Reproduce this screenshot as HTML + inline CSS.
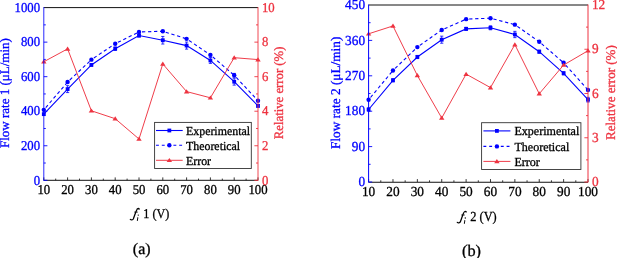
<!DOCTYPE html>
<html><head><meta charset="utf-8"><style>
html,body{margin:0;padding:0;background:#fff;}
svg{display:block;font-family:"Liberation Serif",serif;will-change:transform;}
text{text-rendering:geometricPrecision;stroke-width:0.3px;}
</style></head><body>
<svg width="617" height="258" viewBox="0 0 617 258">
<rect width="617" height="258" fill="#fff"/>
<text transform="translate(43.80,194.10) scale(0.944,1)" font-size="13.5" fill="#000" stroke="#000" text-anchor="middle">10</text>
<text transform="translate(67.60,194.10) scale(0.944,1)" font-size="13.5" fill="#000" stroke="#000" text-anchor="middle">20</text>
<text transform="translate(91.40,194.10) scale(0.944,1)" font-size="13.5" fill="#000" stroke="#000" text-anchor="middle">30</text>
<text transform="translate(115.20,194.10) scale(0.944,1)" font-size="13.5" fill="#000" stroke="#000" text-anchor="middle">40</text>
<text transform="translate(139.00,194.10) scale(0.944,1)" font-size="13.5" fill="#000" stroke="#000" text-anchor="middle">50</text>
<text transform="translate(162.80,194.10) scale(0.944,1)" font-size="13.5" fill="#000" stroke="#000" text-anchor="middle">60</text>
<text transform="translate(186.60,194.10) scale(0.944,1)" font-size="13.5" fill="#000" stroke="#000" text-anchor="middle">70</text>
<text transform="translate(210.40,194.10) scale(0.944,1)" font-size="13.5" fill="#000" stroke="#000" text-anchor="middle">80</text>
<text transform="translate(234.20,194.10) scale(0.944,1)" font-size="13.5" fill="#000" stroke="#000" text-anchor="middle">90</text>
<text transform="translate(258.00,194.10) scale(0.944,1)" font-size="13.5" fill="#000" stroke="#000" text-anchor="middle">100</text>
<text transform="translate(40.10,184.50) scale(0.944,1)" font-size="13.5" fill="#0000ff" stroke="#0000ff" text-anchor="end">0</text>
<text transform="translate(40.10,149.96) scale(0.944,1)" font-size="13.5" fill="#0000ff" stroke="#0000ff" text-anchor="end">200</text>
<text transform="translate(40.10,115.42) scale(0.944,1)" font-size="13.5" fill="#0000ff" stroke="#0000ff" text-anchor="end">400</text>
<text transform="translate(40.10,80.88) scale(0.944,1)" font-size="13.5" fill="#0000ff" stroke="#0000ff" text-anchor="end">600</text>
<text transform="translate(40.10,46.34) scale(0.944,1)" font-size="13.5" fill="#0000ff" stroke="#0000ff" text-anchor="end">800</text>
<text transform="translate(40.10,11.80) scale(0.944,1)" font-size="13.5" fill="#0000ff" stroke="#0000ff" text-anchor="end">1000</text>
<text transform="translate(261.90,184.50) scale(0.944,1)" font-size="13.5" fill="#ee3340" stroke="#ee3340">0</text>
<text transform="translate(261.90,149.96) scale(0.944,1)" font-size="13.5" fill="#ee3340" stroke="#ee3340">2</text>
<text transform="translate(261.90,115.42) scale(0.944,1)" font-size="13.5" fill="#ee3340" stroke="#ee3340">4</text>
<text transform="translate(261.90,80.88) scale(0.944,1)" font-size="13.5" fill="#ee3340" stroke="#ee3340">6</text>
<text transform="translate(261.90,46.34) scale(0.944,1)" font-size="13.5" fill="#ee3340" stroke="#ee3340">8</text>
<text transform="translate(261.90,11.80) scale(0.944,1)" font-size="13.5" fill="#ee3340" stroke="#ee3340">10</text>
<path d="M43.80,109.84L67.60,82.03" fill="none" stroke="#0000ff" stroke-width="1.1" stroke-dasharray="3.3,2.7" stroke-dashoffset="3"/>
<path d="M67.60,82.03L91.40,59.67" fill="none" stroke="#0000ff" stroke-width="1.1" stroke-dasharray="3.3,2.7" stroke-dashoffset="3"/>
<path d="M91.40,59.67L115.20,43.69" fill="none" stroke="#0000ff" stroke-width="1.1" stroke-dasharray="3.3,2.7" stroke-dashoffset="3"/>
<path d="M115.20,43.69L139.00,31.95" fill="none" stroke="#0000ff" stroke-width="1.1" stroke-dasharray="3.3,2.7" stroke-dashoffset="3"/>
<path d="M139.00,31.95L162.80,31.26" fill="none" stroke="#0000ff" stroke-width="1.1" stroke-dasharray="3.3,2.7" stroke-dashoffset="3"/>
<path d="M162.80,31.26L186.60,38.86" fill="none" stroke="#0000ff" stroke-width="1.1" stroke-dasharray="3.3,2.7" stroke-dashoffset="3"/>
<path d="M186.60,38.86L210.40,54.92" fill="none" stroke="#0000ff" stroke-width="1.1" stroke-dasharray="3.3,2.7" stroke-dashoffset="3"/>
<path d="M210.40,54.92L234.20,75.30" fill="none" stroke="#0000ff" stroke-width="1.1" stroke-dasharray="3.3,2.7" stroke-dashoffset="3"/>
<path d="M234.20,75.30L258.00,100.69" fill="none" stroke="#0000ff" stroke-width="1.1" stroke-dasharray="3.3,2.7" stroke-dashoffset="3"/>
<polyline points="43.80,114.16 67.60,89.11 91.40,64.94 115.20,48.70 139.00,35.58 162.80,40.24 186.60,45.59 210.40,60.45 234.20,81.69 258.00,105.87" fill="none" stroke="#0000ff" stroke-width="1.1"/>
<path d="M43.80,115.19V113.12M42.20,115.19h3.2M42.20,113.12h3.2" stroke="#0000ff" stroke-width="0.8" fill="none"/>
<path d="M67.60,92.57V85.66M66.00,92.57h3.2M66.00,85.66h3.2" stroke="#0000ff" stroke-width="0.8" fill="none"/>
<path d="M91.40,65.97V63.90M89.80,65.97h3.2M89.80,63.90h3.2" stroke="#0000ff" stroke-width="0.8" fill="none"/>
<path d="M115.20,50.43V46.98M113.60,50.43h3.2M113.60,46.98h3.2" stroke="#0000ff" stroke-width="0.8" fill="none"/>
<path d="M139.00,36.96V34.20M137.40,36.96h3.2M137.40,34.20h3.2" stroke="#0000ff" stroke-width="0.8" fill="none"/>
<path d="M162.80,44.04V36.44M161.20,44.04h3.2M161.20,36.44h3.2" stroke="#0000ff" stroke-width="0.8" fill="none"/>
<path d="M186.60,49.13V42.05M185.00,49.13h3.2M185.00,42.05h3.2" stroke="#0000ff" stroke-width="0.8" fill="none"/>
<path d="M210.40,63.38V57.51M208.80,63.38h3.2M208.80,57.51h3.2" stroke="#0000ff" stroke-width="0.8" fill="none"/>
<path d="M234.20,85.14V78.23M232.60,85.14h3.2M232.60,78.23h3.2" stroke="#0000ff" stroke-width="0.8" fill="none"/>
<path d="M258.00,107.25V104.48M256.40,107.25h3.2M256.40,104.48h3.2" stroke="#0000ff" stroke-width="0.8" fill="none"/>
<path d="M234.20,77.20V73.40M232.60,77.20h3.2M232.60,73.40h3.2" stroke="#0000ff" stroke-width="0.8" fill="none"/>
<rect x="41.90" y="112.26" width="3.8" height="3.8" fill="#0000ff"/>
<rect x="65.70" y="87.21" width="3.8" height="3.8" fill="#0000ff"/>
<rect x="89.50" y="63.04" width="3.8" height="3.8" fill="#0000ff"/>
<rect x="113.30" y="46.80" width="3.8" height="3.8" fill="#0000ff"/>
<rect x="137.10" y="33.68" width="3.8" height="3.8" fill="#0000ff"/>
<rect x="160.90" y="38.34" width="3.8" height="3.8" fill="#0000ff"/>
<rect x="184.70" y="43.69" width="3.8" height="3.8" fill="#0000ff"/>
<rect x="208.50" y="58.55" width="3.8" height="3.8" fill="#0000ff"/>
<rect x="232.30" y="79.79" width="3.8" height="3.8" fill="#0000ff"/>
<rect x="256.10" y="103.97" width="3.8" height="3.8" fill="#0000ff"/>
<circle cx="43.80" cy="109.84" r="2.2" fill="#0000ff"/>
<circle cx="67.60" cy="82.03" r="2.2" fill="#0000ff"/>
<circle cx="91.40" cy="59.67" r="2.2" fill="#0000ff"/>
<circle cx="115.20" cy="43.69" r="2.2" fill="#0000ff"/>
<circle cx="139.00" cy="31.95" r="2.2" fill="#0000ff"/>
<circle cx="162.80" cy="31.26" r="2.2" fill="#0000ff"/>
<circle cx="186.60" cy="38.86" r="2.2" fill="#0000ff"/>
<circle cx="210.40" cy="54.92" r="2.2" fill="#0000ff"/>
<circle cx="234.20" cy="75.30" r="2.2" fill="#0000ff"/>
<circle cx="258.00" cy="100.69" r="2.2" fill="#0000ff"/>
<polyline points="43.80,61.74 67.60,48.88 91.40,110.79 115.20,118.70 139.00,138.99 162.80,63.95 186.60,91.58 210.40,97.80 234.20,57.68 258.00,59.58" fill="none" stroke="#ee3340" stroke-width="0.95"/>
<path d="M43.80,59.34L46.50,63.54L41.10,63.54Z" fill="#ee3340"/>
<path d="M67.60,46.48L70.30,50.68L64.90,50.68Z" fill="#ee3340"/>
<path d="M91.40,108.39L94.10,112.59L88.70,112.59Z" fill="#ee3340"/>
<path d="M115.20,116.30L117.90,120.50L112.50,120.50Z" fill="#ee3340"/>
<path d="M139.00,136.59L141.70,140.79L136.30,140.79Z" fill="#ee3340"/>
<path d="M162.80,61.55L165.50,65.75L160.10,65.75Z" fill="#ee3340"/>
<path d="M186.60,89.18L189.30,93.38L183.90,93.38Z" fill="#ee3340"/>
<path d="M210.40,95.40L213.10,99.60L207.70,99.60Z" fill="#ee3340"/>
<path d="M234.20,55.28L236.90,59.48L231.50,59.48Z" fill="#ee3340"/>
<path d="M258.00,57.18L260.70,61.38L255.30,61.38Z" fill="#ee3340"/>
<line x1="43.80" y1="180.30" x2="43.80" y2="177.40" stroke="#222" stroke-width="0.9"/>
<line x1="55.70" y1="180.30" x2="55.70" y2="178.60" stroke="#222" stroke-width="0.9"/>
<line x1="67.60" y1="180.30" x2="67.60" y2="177.40" stroke="#222" stroke-width="0.9"/>
<line x1="79.50" y1="180.30" x2="79.50" y2="178.60" stroke="#222" stroke-width="0.9"/>
<line x1="91.40" y1="180.30" x2="91.40" y2="177.40" stroke="#222" stroke-width="0.9"/>
<line x1="103.30" y1="180.30" x2="103.30" y2="178.60" stroke="#222" stroke-width="0.9"/>
<line x1="115.20" y1="180.30" x2="115.20" y2="177.40" stroke="#222" stroke-width="0.9"/>
<line x1="127.10" y1="180.30" x2="127.10" y2="178.60" stroke="#222" stroke-width="0.9"/>
<line x1="139.00" y1="180.30" x2="139.00" y2="177.40" stroke="#222" stroke-width="0.9"/>
<line x1="150.90" y1="180.30" x2="150.90" y2="178.60" stroke="#222" stroke-width="0.9"/>
<line x1="162.80" y1="180.30" x2="162.80" y2="177.40" stroke="#222" stroke-width="0.9"/>
<line x1="174.70" y1="180.30" x2="174.70" y2="178.60" stroke="#222" stroke-width="0.9"/>
<line x1="186.60" y1="180.30" x2="186.60" y2="177.40" stroke="#222" stroke-width="0.9"/>
<line x1="198.50" y1="180.30" x2="198.50" y2="178.60" stroke="#222" stroke-width="0.9"/>
<line x1="210.40" y1="180.30" x2="210.40" y2="177.40" stroke="#222" stroke-width="0.9"/>
<line x1="222.30" y1="180.30" x2="222.30" y2="178.60" stroke="#222" stroke-width="0.9"/>
<line x1="234.20" y1="180.30" x2="234.20" y2="177.40" stroke="#222" stroke-width="0.9"/>
<line x1="246.10" y1="180.30" x2="246.10" y2="178.60" stroke="#222" stroke-width="0.9"/>
<line x1="258.00" y1="180.30" x2="258.00" y2="177.40" stroke="#222" stroke-width="0.9"/>
<line x1="43.80" y1="7.60" x2="258.00" y2="7.60" stroke="#111" stroke-width="1.0"/>
<line x1="43.80" y1="180.30" x2="258.00" y2="180.30" stroke="#111" stroke-width="1.0"/>
<line x1="43.80" y1="180.80" x2="43.80" y2="7.10" stroke="#0000ff" stroke-width="0.85"/>
<line x1="43.80" y1="180.30" x2="47.40" y2="180.30" stroke="#0000ff" stroke-width="0.9"/>
<line x1="43.80" y1="163.03" x2="45.80" y2="163.03" stroke="#0000ff" stroke-width="0.9"/>
<line x1="43.80" y1="145.76" x2="47.40" y2="145.76" stroke="#0000ff" stroke-width="0.9"/>
<line x1="43.80" y1="128.49" x2="45.80" y2="128.49" stroke="#0000ff" stroke-width="0.9"/>
<line x1="43.80" y1="111.22" x2="47.40" y2="111.22" stroke="#0000ff" stroke-width="0.9"/>
<line x1="43.80" y1="93.95" x2="45.80" y2="93.95" stroke="#0000ff" stroke-width="0.9"/>
<line x1="43.80" y1="76.68" x2="47.40" y2="76.68" stroke="#0000ff" stroke-width="0.9"/>
<line x1="43.80" y1="59.41" x2="45.80" y2="59.41" stroke="#0000ff" stroke-width="0.9"/>
<line x1="43.80" y1="42.14" x2="47.40" y2="42.14" stroke="#0000ff" stroke-width="0.9"/>
<line x1="43.80" y1="24.87" x2="45.80" y2="24.87" stroke="#0000ff" stroke-width="0.9"/>
<line x1="258.00" y1="180.80" x2="258.00" y2="7.10" stroke="#ee3340" stroke-width="0.9"/>
<line x1="258.00" y1="180.30" x2="254.40" y2="180.30" stroke="#ee3340" stroke-width="0.9"/>
<line x1="258.00" y1="163.03" x2="256.00" y2="163.03" stroke="#ee3340" stroke-width="0.9"/>
<line x1="258.00" y1="145.76" x2="254.40" y2="145.76" stroke="#ee3340" stroke-width="0.9"/>
<line x1="258.00" y1="128.49" x2="256.00" y2="128.49" stroke="#ee3340" stroke-width="0.9"/>
<line x1="258.00" y1="111.22" x2="254.40" y2="111.22" stroke="#ee3340" stroke-width="0.9"/>
<line x1="258.00" y1="93.95" x2="256.00" y2="93.95" stroke="#ee3340" stroke-width="0.9"/>
<line x1="258.00" y1="76.68" x2="254.40" y2="76.68" stroke="#ee3340" stroke-width="0.9"/>
<line x1="258.00" y1="59.41" x2="256.00" y2="59.41" stroke="#ee3340" stroke-width="0.9"/>
<line x1="258.00" y1="42.14" x2="254.40" y2="42.14" stroke="#ee3340" stroke-width="0.9"/>
<line x1="258.00" y1="24.87" x2="256.00" y2="24.87" stroke="#ee3340" stroke-width="0.9"/>
<rect x="154.6" y="122.4" width="96.70" height="46.10" fill="#fff" stroke="#333" stroke-width="0.9"/>
<line x1="156" y1="130.5" x2="182.7" y2="130.5" stroke="#0000ff" stroke-width="1.1"/>
<rect x="167.45" y="128.60" width="3.8" height="3.8" fill="#0000ff"/>
<text transform="translate(186.00,134.70) scale(0.975,1)" font-size="12.2" fill="#000" stroke="#000">Experimental</text>
<line x1="156" y1="145.3" x2="182.7" y2="145.3" stroke="#0000ff" stroke-width="1.1" stroke-dasharray="2.9,2.9"/>
<circle cx="169.35" cy="145.3" r="2.2" fill="#0000ff"/>
<text transform="translate(186.00,149.50) scale(0.975,1)" font-size="12.2" fill="#000" stroke="#000">Theoretical</text>
<line x1="156" y1="160.3" x2="182.7" y2="160.3" stroke="#ee3340" stroke-width="0.95"/>
<path d="M169.35,157.90L172.05,162.10L166.65,162.10Z" fill="#ee3340"/>
<text transform="translate(186.00,164.50) scale(0.975,1)" font-size="12.2" fill="#000" stroke="#000">Error</text>
<text transform="translate(8.70,148.00) rotate(-90) scale(1.0,1)" font-size="13.0" fill="#0000ff" stroke="#0000ff">Flow rate 1 (μL/min)</text>
<text transform="translate(283.30,139.20) rotate(-90) scale(0.98,1)" font-size="13.0" fill="#ee3340" stroke="#ee3340">Relative error (%)</text>
<g transform="translate(130.3,219.4)" fill="none" stroke="#000" stroke-linecap="round"><path d="M0,0 C0.8,0.9 2.4,0.7 3.0,-0.4 C4.1,-3.2 5.3,-7.2 6.4,-9.5 C7.0,-10.9 8.2,-11.3 8.8,-10.6" stroke-width="1.25"/><path d="M4.3,-7.3 H7.1" stroke-width="0.8"/><circle cx="8.7" cy="-10.3" r="0.6" fill="#000" stroke="none"/></g>
<g transform="translate(130.3,219.4)" fill="none" stroke="#000"><circle cx="8.0" cy="-4.3" r="0.7" fill="#000" stroke="none"/><path d="M7.1,-1.6 L7.6,-1.85 L7.0,1.1 L7.7,0.9" stroke-width="0.95" stroke-linejoin="round"/></g>
<text transform="translate(143.30,218.20) scale(0.9,1)" font-size="13.5" fill="#000" stroke="#000">1 (V)</text>
<text transform="translate(132.80,254.20)" font-size="16" fill="#000" stroke="#000">(a)</text>
<text transform="translate(368.60,195.80) scale(0.965,1)" font-size="13.8" fill="#000" stroke="#000" text-anchor="middle">10</text>
<text transform="translate(392.98,195.80) scale(0.965,1)" font-size="13.8" fill="#000" stroke="#000" text-anchor="middle">20</text>
<text transform="translate(417.36,195.80) scale(0.965,1)" font-size="13.8" fill="#000" stroke="#000" text-anchor="middle">30</text>
<text transform="translate(441.73,195.80) scale(0.965,1)" font-size="13.8" fill="#000" stroke="#000" text-anchor="middle">40</text>
<text transform="translate(466.11,195.80) scale(0.965,1)" font-size="13.8" fill="#000" stroke="#000" text-anchor="middle">50</text>
<text transform="translate(490.49,195.80) scale(0.965,1)" font-size="13.8" fill="#000" stroke="#000" text-anchor="middle">60</text>
<text transform="translate(514.87,195.80) scale(0.965,1)" font-size="13.8" fill="#000" stroke="#000" text-anchor="middle">70</text>
<text transform="translate(539.24,195.80) scale(0.965,1)" font-size="13.8" fill="#000" stroke="#000" text-anchor="middle">80</text>
<text transform="translate(563.62,195.80) scale(0.965,1)" font-size="13.8" fill="#000" stroke="#000" text-anchor="middle">90</text>
<text transform="translate(588.00,195.80) scale(0.965,1)" font-size="13.8" fill="#000" stroke="#000" text-anchor="middle">100</text>
<text transform="translate(365.10,186.20) scale(0.965,1)" font-size="13.8" fill="#0000ff" stroke="#0000ff" text-anchor="end">0</text>
<text transform="translate(365.10,150.80) scale(0.965,1)" font-size="13.8" fill="#0000ff" stroke="#0000ff" text-anchor="end">90</text>
<text transform="translate(365.10,115.40) scale(0.965,1)" font-size="13.8" fill="#0000ff" stroke="#0000ff" text-anchor="end">180</text>
<text transform="translate(365.10,80.00) scale(0.965,1)" font-size="13.8" fill="#0000ff" stroke="#0000ff" text-anchor="end">270</text>
<text transform="translate(365.10,44.60) scale(0.965,1)" font-size="13.8" fill="#0000ff" stroke="#0000ff" text-anchor="end">360</text>
<text transform="translate(365.10,9.20) scale(0.965,1)" font-size="13.8" fill="#0000ff" stroke="#0000ff" text-anchor="end">450</text>
<text transform="translate(591.90,186.20) scale(0.965,1)" font-size="13.8" fill="#ee3340" stroke="#ee3340">0</text>
<text transform="translate(591.90,141.95) scale(0.965,1)" font-size="13.8" fill="#ee3340" stroke="#ee3340">3</text>
<text transform="translate(591.90,97.70) scale(0.965,1)" font-size="13.8" fill="#ee3340" stroke="#ee3340">6</text>
<text transform="translate(591.90,53.45) scale(0.965,1)" font-size="13.8" fill="#ee3340" stroke="#ee3340">9</text>
<text transform="translate(591.90,9.20) scale(0.965,1)" font-size="13.8" fill="#ee3340" stroke="#ee3340">12</text>
<path d="M368.60,99.79L392.98,70.49" fill="none" stroke="#0000ff" stroke-width="1.1" stroke-dasharray="3.3,2.7" stroke-dashoffset="3"/>
<path d="M392.98,70.49L417.36,47.09" fill="none" stroke="#0000ff" stroke-width="1.1" stroke-dasharray="3.3,2.7" stroke-dashoffset="3"/>
<path d="M417.36,47.09L441.73,29.98" fill="none" stroke="#0000ff" stroke-width="1.1" stroke-dasharray="3.3,2.7" stroke-dashoffset="3"/>
<path d="M441.73,29.98L466.11,19.16" fill="none" stroke="#0000ff" stroke-width="1.1" stroke-dasharray="3.3,2.7" stroke-dashoffset="3"/>
<path d="M466.11,19.16L490.49,18.18" fill="none" stroke="#0000ff" stroke-width="1.1" stroke-dasharray="3.3,2.7" stroke-dashoffset="3"/>
<path d="M490.49,18.18L514.87,24.67" fill="none" stroke="#0000ff" stroke-width="1.1" stroke-dasharray="3.3,2.7" stroke-dashoffset="3"/>
<path d="M514.87,24.67L539.24,41.70" fill="none" stroke="#0000ff" stroke-width="1.1" stroke-dasharray="3.3,2.7" stroke-dashoffset="3"/>
<path d="M539.24,41.70L563.62,62.82" fill="none" stroke="#0000ff" stroke-width="1.1" stroke-dasharray="3.3,2.7" stroke-dashoffset="3"/>
<path d="M563.62,62.82L588.00,89.96" fill="none" stroke="#0000ff" stroke-width="1.1" stroke-dasharray="3.3,2.7" stroke-dashoffset="3"/>
<polyline points="368.60,109.51 392.98,80.28 417.36,57.00 441.73,39.69 466.11,28.88 490.49,27.81 514.87,34.50 539.24,51.69 563.62,73.28 588.00,99.68" fill="none" stroke="#0000ff" stroke-width="1.1"/>
<path d="M368.60,111.08V107.94M367.00,111.08h3.2M367.00,107.94h3.2" stroke="#0000ff" stroke-width="0.8" fill="none"/>
<path d="M392.98,81.86V78.71M391.38,81.86h3.2M391.38,78.71h3.2" stroke="#0000ff" stroke-width="0.8" fill="none"/>
<path d="M417.36,58.57V55.43M415.76,58.57h3.2M415.76,55.43h3.2" stroke="#0000ff" stroke-width="0.8" fill="none"/>
<path d="M441.73,43.23V36.15M440.13,43.23h3.2M440.13,36.15h3.2" stroke="#0000ff" stroke-width="0.8" fill="none"/>
<path d="M466.11,30.45V27.30M464.51,30.45h3.2M464.51,27.30h3.2" stroke="#0000ff" stroke-width="0.8" fill="none"/>
<path d="M490.49,29.78V25.85M488.89,29.78h3.2M488.89,25.85h3.2" stroke="#0000ff" stroke-width="0.8" fill="none"/>
<path d="M514.87,37.65V31.35M513.27,37.65h3.2M513.27,31.35h3.2" stroke="#0000ff" stroke-width="0.8" fill="none"/>
<path d="M539.24,53.26V50.12M537.64,53.26h3.2M537.64,50.12h3.2" stroke="#0000ff" stroke-width="0.8" fill="none"/>
<path d="M563.62,74.86V71.71M562.02,74.86h3.2M562.02,71.71h3.2" stroke="#0000ff" stroke-width="0.8" fill="none"/>
<path d="M588.00,102.04V97.32M586.40,102.04h3.2M586.40,97.32h3.2" stroke="#0000ff" stroke-width="0.8" fill="none"/>
<rect x="366.70" y="107.61" width="3.8" height="3.8" fill="#0000ff"/>
<rect x="391.08" y="78.38" width="3.8" height="3.8" fill="#0000ff"/>
<rect x="415.46" y="55.10" width="3.8" height="3.8" fill="#0000ff"/>
<rect x="439.83" y="37.79" width="3.8" height="3.8" fill="#0000ff"/>
<rect x="464.21" y="26.98" width="3.8" height="3.8" fill="#0000ff"/>
<rect x="488.59" y="25.91" width="3.8" height="3.8" fill="#0000ff"/>
<rect x="512.97" y="32.60" width="3.8" height="3.8" fill="#0000ff"/>
<rect x="537.34" y="49.79" width="3.8" height="3.8" fill="#0000ff"/>
<rect x="561.72" y="71.38" width="3.8" height="3.8" fill="#0000ff"/>
<rect x="586.10" y="97.78" width="3.8" height="3.8" fill="#0000ff"/>
<circle cx="368.60" cy="99.79" r="2.2" fill="#0000ff"/>
<circle cx="392.98" cy="70.49" r="2.2" fill="#0000ff"/>
<circle cx="417.36" cy="47.09" r="2.2" fill="#0000ff"/>
<circle cx="441.73" cy="29.98" r="2.2" fill="#0000ff"/>
<circle cx="466.11" cy="19.16" r="2.2" fill="#0000ff"/>
<circle cx="490.49" cy="18.18" r="2.2" fill="#0000ff"/>
<circle cx="514.87" cy="24.67" r="2.2" fill="#0000ff"/>
<circle cx="539.24" cy="41.70" r="2.2" fill="#0000ff"/>
<circle cx="563.62" cy="62.82" r="2.2" fill="#0000ff"/>
<circle cx="588.00" cy="89.96" r="2.2" fill="#0000ff"/>
<polyline points="368.60,33.82 392.98,25.94 417.36,75.50 441.73,117.98 466.11,74.12 490.49,87.60 514.87,44.59 539.24,93.75 563.62,65.03 588.00,50.72" fill="none" stroke="#ee3340" stroke-width="0.95"/>
<path d="M368.60,31.42L371.30,35.62L365.90,35.62Z" fill="#ee3340"/>
<path d="M392.98,23.54L395.68,27.74L390.28,27.74Z" fill="#ee3340"/>
<path d="M417.36,73.10L420.06,77.30L414.66,77.30Z" fill="#ee3340"/>
<path d="M441.73,115.58L444.43,119.78L439.03,119.78Z" fill="#ee3340"/>
<path d="M466.11,71.72L468.81,75.92L463.41,75.92Z" fill="#ee3340"/>
<path d="M490.49,85.20L493.19,89.40L487.79,89.40Z" fill="#ee3340"/>
<path d="M514.87,42.19L517.57,46.39L512.17,46.39Z" fill="#ee3340"/>
<path d="M539.24,91.35L541.94,95.55L536.54,95.55Z" fill="#ee3340"/>
<path d="M563.62,62.63L566.32,66.83L560.92,66.83Z" fill="#ee3340"/>
<path d="M588.00,48.32L590.70,52.52L585.30,52.52Z" fill="#ee3340"/>
<line x1="368.60" y1="182.00" x2="368.60" y2="179.10" stroke="#222" stroke-width="0.9"/>
<line x1="380.79" y1="182.00" x2="380.79" y2="180.30" stroke="#222" stroke-width="0.9"/>
<line x1="392.98" y1="182.00" x2="392.98" y2="179.10" stroke="#222" stroke-width="0.9"/>
<line x1="405.17" y1="182.00" x2="405.17" y2="180.30" stroke="#222" stroke-width="0.9"/>
<line x1="417.36" y1="182.00" x2="417.36" y2="179.10" stroke="#222" stroke-width="0.9"/>
<line x1="429.54" y1="182.00" x2="429.54" y2="180.30" stroke="#222" stroke-width="0.9"/>
<line x1="441.73" y1="182.00" x2="441.73" y2="179.10" stroke="#222" stroke-width="0.9"/>
<line x1="453.92" y1="182.00" x2="453.92" y2="180.30" stroke="#222" stroke-width="0.9"/>
<line x1="466.11" y1="182.00" x2="466.11" y2="179.10" stroke="#222" stroke-width="0.9"/>
<line x1="478.30" y1="182.00" x2="478.30" y2="180.30" stroke="#222" stroke-width="0.9"/>
<line x1="490.49" y1="182.00" x2="490.49" y2="179.10" stroke="#222" stroke-width="0.9"/>
<line x1="502.68" y1="182.00" x2="502.68" y2="180.30" stroke="#222" stroke-width="0.9"/>
<line x1="514.87" y1="182.00" x2="514.87" y2="179.10" stroke="#222" stroke-width="0.9"/>
<line x1="527.06" y1="182.00" x2="527.06" y2="180.30" stroke="#222" stroke-width="0.9"/>
<line x1="539.24" y1="182.00" x2="539.24" y2="179.10" stroke="#222" stroke-width="0.9"/>
<line x1="551.43" y1="182.00" x2="551.43" y2="180.30" stroke="#222" stroke-width="0.9"/>
<line x1="563.62" y1="182.00" x2="563.62" y2="179.10" stroke="#222" stroke-width="0.9"/>
<line x1="575.81" y1="182.00" x2="575.81" y2="180.30" stroke="#222" stroke-width="0.9"/>
<line x1="588.00" y1="182.00" x2="588.00" y2="179.10" stroke="#222" stroke-width="0.9"/>
<line x1="368.60" y1="5.00" x2="588.00" y2="5.00" stroke="#111" stroke-width="1.0"/>
<line x1="368.60" y1="182.25" x2="588.00" y2="182.25" stroke="#111" stroke-width="1.0"/>
<line x1="368.60" y1="182.50" x2="368.60" y2="4.50" stroke="#0000ff" stroke-width="1.0"/>
<line x1="368.60" y1="182.00" x2="372.20" y2="182.00" stroke="#0000ff" stroke-width="0.9"/>
<line x1="368.60" y1="164.30" x2="370.60" y2="164.30" stroke="#0000ff" stroke-width="0.9"/>
<line x1="368.60" y1="146.60" x2="372.20" y2="146.60" stroke="#0000ff" stroke-width="0.9"/>
<line x1="368.60" y1="128.90" x2="370.60" y2="128.90" stroke="#0000ff" stroke-width="0.9"/>
<line x1="368.60" y1="111.20" x2="372.20" y2="111.20" stroke="#0000ff" stroke-width="0.9"/>
<line x1="368.60" y1="93.50" x2="370.60" y2="93.50" stroke="#0000ff" stroke-width="0.9"/>
<line x1="368.60" y1="75.80" x2="372.20" y2="75.80" stroke="#0000ff" stroke-width="0.9"/>
<line x1="368.60" y1="58.10" x2="370.60" y2="58.10" stroke="#0000ff" stroke-width="0.9"/>
<line x1="368.60" y1="40.40" x2="372.20" y2="40.40" stroke="#0000ff" stroke-width="0.9"/>
<line x1="368.60" y1="22.70" x2="370.60" y2="22.70" stroke="#0000ff" stroke-width="0.9"/>
<line x1="588.00" y1="182.50" x2="588.00" y2="4.50" stroke="#ee3340" stroke-width="1.0"/>
<line x1="588.00" y1="182.00" x2="584.40" y2="182.00" stroke="#ee3340" stroke-width="0.9"/>
<line x1="588.00" y1="159.88" x2="586.00" y2="159.88" stroke="#ee3340" stroke-width="0.9"/>
<line x1="588.00" y1="137.75" x2="584.40" y2="137.75" stroke="#ee3340" stroke-width="0.9"/>
<line x1="588.00" y1="115.62" x2="586.00" y2="115.62" stroke="#ee3340" stroke-width="0.9"/>
<line x1="588.00" y1="93.50" x2="584.40" y2="93.50" stroke="#ee3340" stroke-width="0.9"/>
<line x1="588.00" y1="71.38" x2="586.00" y2="71.38" stroke="#ee3340" stroke-width="0.9"/>
<line x1="588.00" y1="49.25" x2="584.40" y2="49.25" stroke="#ee3340" stroke-width="0.9"/>
<line x1="588.00" y1="27.12" x2="586.00" y2="27.12" stroke="#ee3340" stroke-width="0.9"/>
<rect x="481.6" y="122.7" width="99.30" height="46.80" fill="#fff" stroke="#333" stroke-width="0.9"/>
<line x1="483.4" y1="130.9" x2="510.4" y2="130.9" stroke="#0000ff" stroke-width="1.1"/>
<rect x="495.00" y="129.00" width="3.8" height="3.8" fill="#0000ff"/>
<text transform="translate(514.40,135.10) scale(0.98,1)" font-size="12.3" fill="#000" stroke="#000">Experimental</text>
<line x1="483.4" y1="146.4" x2="510.4" y2="146.4" stroke="#0000ff" stroke-width="1.1" stroke-dasharray="2.9,2.9"/>
<circle cx="496.90" cy="146.4" r="2.2" fill="#0000ff"/>
<text transform="translate(514.40,150.60) scale(0.98,1)" font-size="12.3" fill="#000" stroke="#000">Theoretical</text>
<line x1="483.4" y1="161.4" x2="510.4" y2="161.4" stroke="#ee3340" stroke-width="0.95"/>
<path d="M496.90,159.00L499.60,163.20L494.20,163.20Z" fill="#ee3340"/>
<text transform="translate(514.40,165.60) scale(0.98,1)" font-size="12.3" fill="#000" stroke="#000">Error</text>
<text transform="translate(339.50,149.00) rotate(-90) scale(1.0,1)" font-size="13.3" fill="#0000ff" stroke="#0000ff">Flow rate 2 (μL/min)</text>
<text transform="translate(614.50,140.00) rotate(-90) scale(0.98,1)" font-size="13.3" fill="#ee3340" stroke="#ee3340">Relative error (%)</text>
<g transform="translate(457.3,222.3)" fill="none" stroke="#000" stroke-linecap="round"><path d="M0,0 C0.8,0.9 2.4,0.7 3.0,-0.4 C4.1,-3.2 5.3,-7.2 6.4,-9.5 C7.0,-10.9 8.2,-11.3 8.8,-10.6" stroke-width="1.25"/><path d="M4.3,-7.3 H7.1" stroke-width="0.8"/><circle cx="8.7" cy="-10.3" r="0.6" fill="#000" stroke="none"/></g>
<g transform="translate(457.3,222.3)" fill="none" stroke="#000"><circle cx="8.0" cy="-4.3" r="0.7" fill="#000" stroke="none"/><path d="M7.1,-1.6 L7.6,-1.85 L7.0,1.1 L7.7,0.9" stroke-width="0.95" stroke-linejoin="round"/></g>
<text transform="translate(470.20,220.50) scale(0.9,1)" font-size="13.8" fill="#000" stroke="#000">2 (V)</text>
<text transform="translate(462.00,255.50)" font-size="16.3" fill="#000" stroke="#000">(b)</text>
</svg>
</body></html>
